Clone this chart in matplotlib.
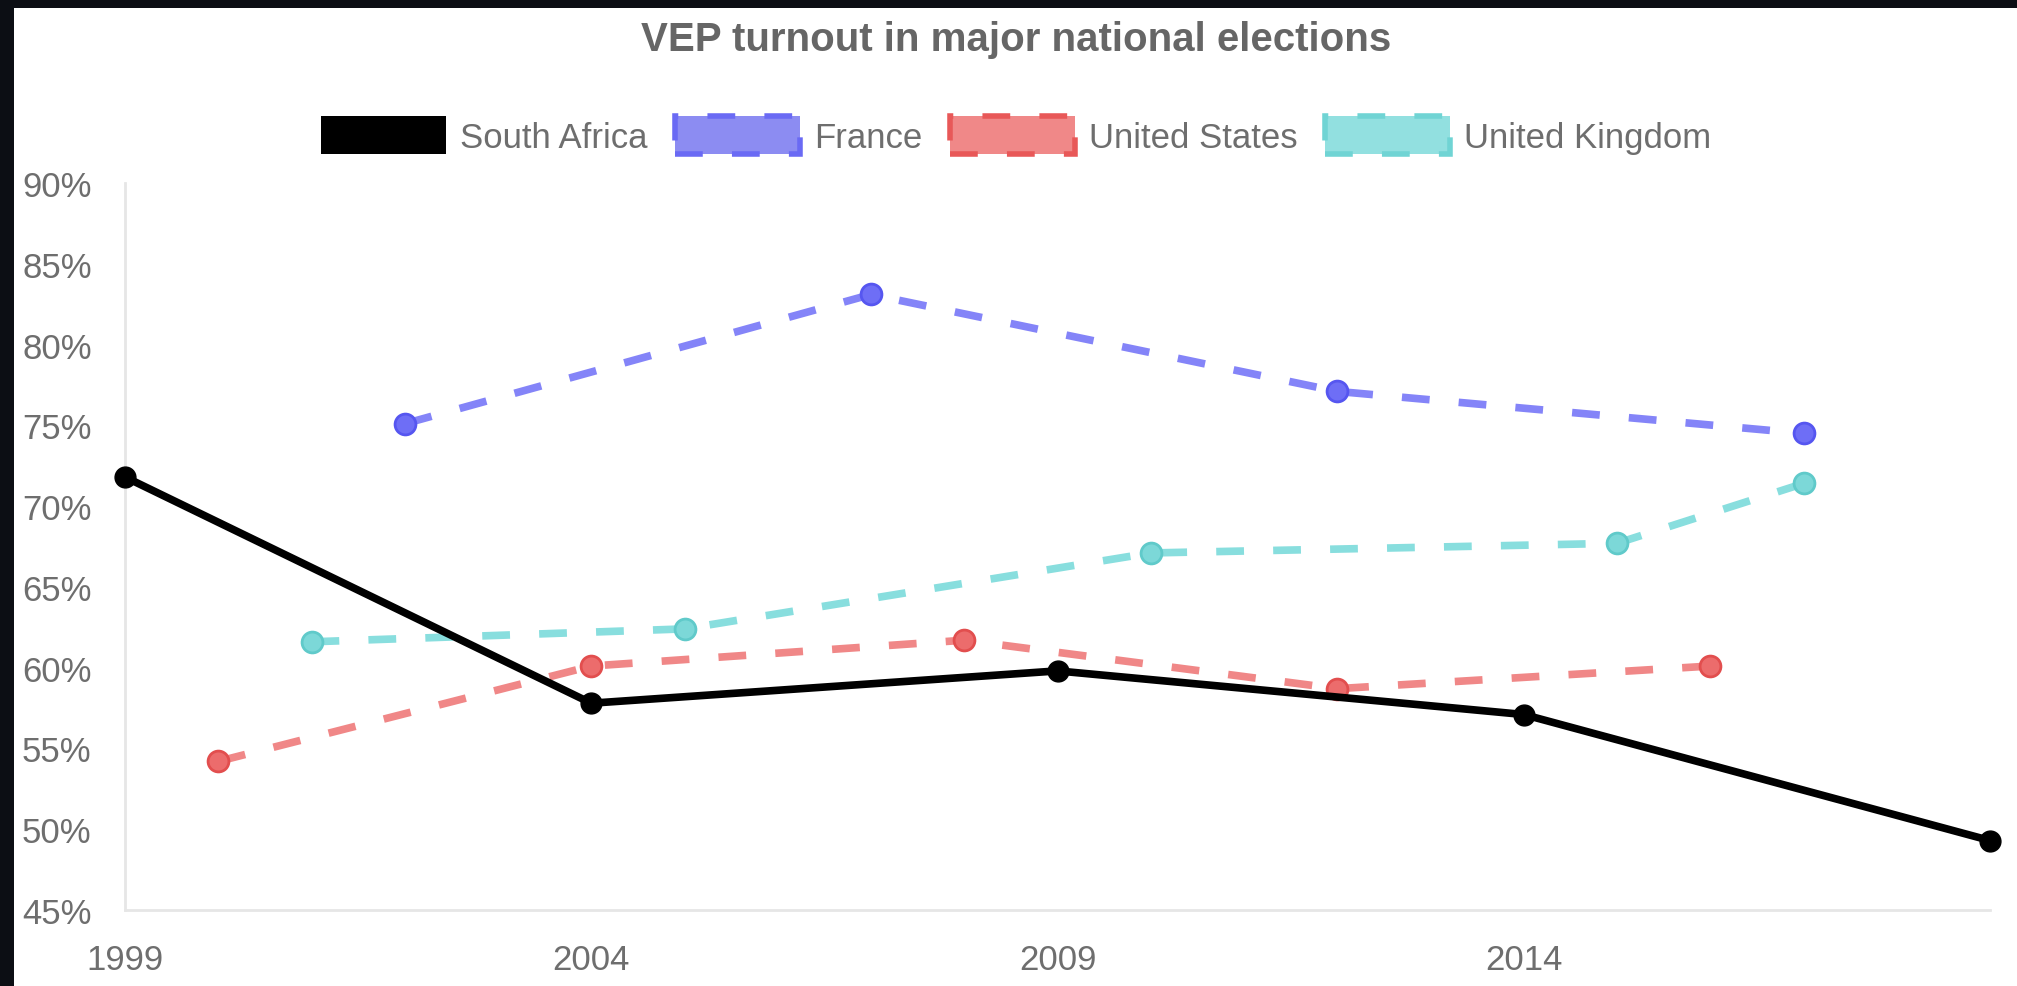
import matplotlib
matplotlib.use("Agg")
import matplotlib.pyplot as plt
from matplotlib.patches import Patch, Rectangle
from matplotlib.ticker import FuncFormatter

plt.rcParams['font.family'] = ['Liberation Sans', 'DejaVu Sans']
plt.rcParams['lines.scale_dashes'] = False

# данные (явка VEP, %)
years_sa = [1999, 2004, 2009, 2014, 2019]
turnout_sa = [71.8, 57.8, 59.8, 57.1, 49.3]

years_fr = [2002, 2007, 2012, 2017]
turnout_fr = [75.1, 83.1, 77.1, 74.5]

years_us = [2000, 2004, 2008, 2012, 2016]
turnout_us = [54.2, 60.1, 61.7, 58.7, 60.1]

years_uk = [2001, 2005, 2010, 2015, 2017]
turnout_uk = [61.6, 62.4, 67.1, 67.7, 71.4]

x_ticks = [1999, 2004, 2009, 2014]
y_ticks = [45, 50, 55, 60, 65, 70, 75, 80, 85, 90]

title = "VEP turnout in major national elections"
labels = ["South Africa", "France", "United States", "United Kingdom"]

W, H = 2017, 987
fig = plt.figure(figsize=(W / 100, H / 100), dpi=100, facecolor='white')

# тёмная рамка скриншота слева и сверху
fig.patches.append(Rectangle((0, 0), 14 / W, 1, transform=fig.transFigure,
                             facecolor='#0c0e14', edgecolor='none', zorder=10))
fig.patches.append(Rectangle((0, 1 - 9 / H), 1, 9 / H, transform=fig.transFigure,
                             facecolor='#0c0e14', edgecolor='none', zorder=10))

ax = fig.add_axes([125 / W, 76 / H, (1990 - 125) / W, (911 - 184) / H])

dash = (0, (20, 21))
lw = 5.5
ms = 15

ax.plot(years_sa, turnout_sa, color='black', lw=lw, marker='o', ms=ms,
        mfc='black', mec='black', clip_on=False, zorder=5)
ax.plot(years_fr, turnout_fr, color='#8484f8', lw=lw, ls=dash, marker='o', ms=ms,
        mfc='#6e6ef6', mec='#5656f0', mew=2, clip_on=False, zorder=4)
ax.plot(years_us, turnout_us, color='#f08787', lw=lw, ls=dash, marker='o', ms=ms,
        mfc='#ec6c6c', mec='#e24e4e', mew=2, clip_on=False, zorder=3)
ax.plot(years_uk, turnout_uk, color='#88dede', lw=lw, ls=dash, marker='o', ms=ms,
        mfc='#7cd8d8', mec='#60caca', mew=2, clip_on=False, zorder=3)

ax.set_xlim(1999, 2019)
ax.set_ylim(45, 90)
ax.set_xticks(x_ticks)
ax.set_yticks(y_ticks)
ax.yaxis.set_major_formatter(FuncFormatter(lambda v, p: f"{v:.0f}%"))
ax.tick_params(axis='both', length=0, labelsize=25, labelcolor='#6e6e6e')
ax.tick_params(axis='y', pad=24)
ax.tick_params(axis='x', pad=24)

for s in ['top', 'right']:
    ax.spines[s].set_visible(False)
for s in ['left', 'bottom']:
    ax.spines[s].set_color('#e6e6e6')
    ax.spines[s].set_linewidth(2)

fig.text(1016 / W, 1 - 40 / H, title, ha='center', va='center',
         fontsize=29, fontweight='bold', color='#666666')

handles = [
    Patch(facecolor='black', edgecolor='black', lw=0),
    Patch(facecolor='#8c8cf2', edgecolor='#6a6af4', lw=4, ls=dash),
    Patch(facecolor='#f08888', edgecolor='#e85858', lw=4, ls=dash),
    Patch(facecolor='#92e0e0', edgecolor='#70d4d4', lw=4, ls=dash),
]
leg = fig.legend(handles, labels, loc='center', bbox_to_anchor=(1016 / W, 1 - 136 / H),
                 ncol=4, frameon=False, fontsize=25, handlelength=3.6, handleheight=1.3,
                 handletextpad=0.4, columnspacing=0.8, borderpad=0, borderaxespad=0)
for t in leg.get_texts():
    t.set_color('#6e6e6e')

fig.savefig('out.png', dpi=100, facecolor='white')
